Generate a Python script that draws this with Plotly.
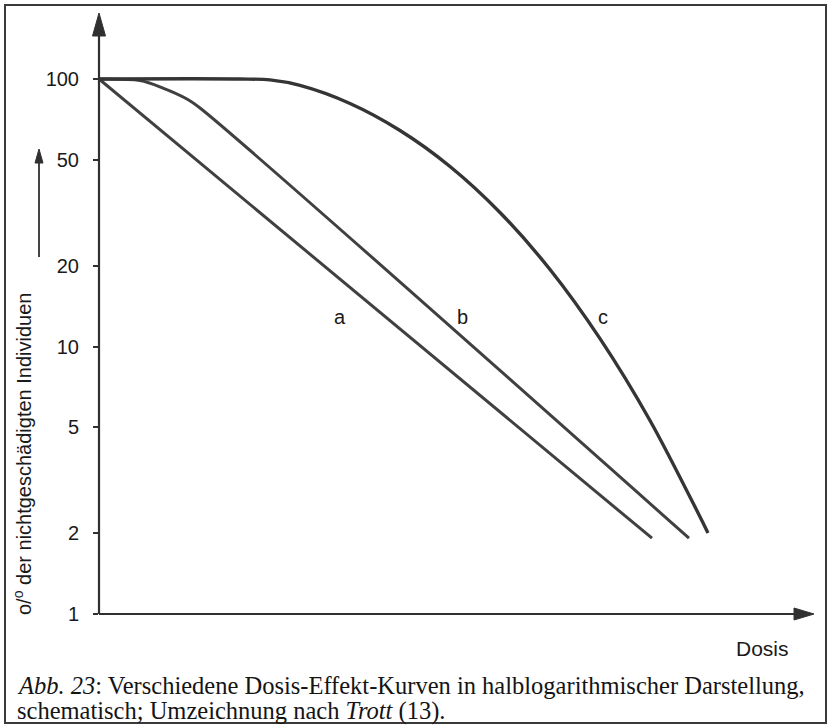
import math
import plotly.graph_objects as go

# --- data -----------------------------------------------------------------
# Dose in arbitrary units (0..10), survival in percent (log axis)
dose_a = [0.0, 7.745]
surv_a = [100, 1.92]

dose_b = [0.0, 0.574, 0.896, 1.232, 1.415, 8.263]
surv_b = [100, 98.7, 92.5, 84.2, 77.9, 1.92]

dose_c = [0.0, 1.975, 2.395, 2.815, 3.515, 4.216, 4.916, 5.616,
          6.317, 7.017, 7.717, 8.417, 8.529]
surv_c = [100, 100, 99.2, 94.6, 81.0, 64.2, 47.1, 31.7,
          19.4, 10.7, 5.29, 2.31, 2.01]

y_ticks = [1, 2, 5, 10, 20, 50, 100]
y_tick_text = ["1", "2", "5", "10", "20", "50", "100"]

curve_labels = ["a", "b", "c"]
curve_label_dose = [3.375, 5.084, 7.059]
curve_label_surv = [12.9, 12.9, 12.9]

y_title = "o/<sup>o</sup> der nichtgeschädigten Individuen"
x_title = "Dosis"
caption_1 = "<i>Abb. 23</i>: Verschiedene Dosis-Effekt-Kurven in halblogarithmischer Darstellung,"
caption_2 = "schematisch; Umzeichnung nach <i>Trott</i> (13)."

# --- layout geometry ----------------------------------------------------------
W, H = 829, 727
L, R, T, B = 99, 16, 13, 113
PW, PH = W - L - R, H - T - B


def fx(px):
    return (px - L) / PW


def fy(py):
    return (H - B - py) / PH


INK = "#303030"
LINE = "#404040"
TXT = "#1a1a1a"
SANS = "Liberation Sans, Arial, sans-serif"
SERIF = "Liberation Serif, Times New Roman, serif"

fig = go.Figure()
for xs, ys, w, col in [(dose_a, surv_a, 3.0, LINE), (dose_b, surv_b, 3.0, LINE),
                       (dose_c, surv_c, 3.4, "#353535")]:
    fig.add_trace(go.Scatter(
        x=xs, y=ys, mode="lines",
        line=dict(color=col, width=w, shape="spline", smoothing=0.9),
        hoverinfo="skip", showlegend=False,
    ))

shapes = []
# outer frame around figure and caption
shapes.append(dict(type="rect", xref="paper", yref="paper",
                   x0=fx(5), x1=fx(826), y0=fy(723), y1=fy(5),
                   line=dict(color="#3a3a3a", width=2)))
# y axis with arrow
shapes.append(dict(type="line", xref="paper", yref="paper",
                   x0=fx(99), x1=fx(99), y0=fy(614), y1=fy(30),
                   line=dict(color=INK, width=2.2)))
shapes.append(dict(type="path", xref="paper", yref="paper",
                   path=f"M {fx(99)} {fy(13)} L {fx(92.5)} {fy(36)} L {fx(105.5)} {fy(36)} Z",
                   fillcolor=INK, line=dict(color=INK, width=1)))
# x axis with arrow
shapes.append(dict(type="line", xref="paper", yref="paper",
                   x0=fx(99), x1=fx(798), y0=fy(614), y1=fy(614),
                   line=dict(color=INK, width=2.2)))
shapes.append(dict(type="path", xref="paper", yref="paper",
                   path=f"M {fx(814)} {fy(614)} L {fx(794)} {fy(608)} L {fx(794)} {fy(620)} Z",
                   fillcolor=INK, line=dict(color=INK, width=1)))
# small arrow beside the y-axis title
shapes.append(dict(type="line", xref="paper", yref="paper",
                   x0=fx(39), x1=fx(39), y0=fy(257), y1=fy(160),
                   line=dict(color=INK, width=1.8)))
shapes.append(dict(type="path", xref="paper", yref="paper",
                   path=f"M {fx(39)} {fy(149)} L {fx(35)} {fy(163)} L {fx(43)} {fy(163)} Z",
                   fillcolor=INK, line=dict(color=INK, width=1)))

annotations = []
for lab, xd, yd in zip(curve_labels, curve_label_dose, curve_label_surv):
    annotations.append(dict(x=xd, y=math.log10(yd), xref="x", yref="y",
                            xanchor="center", yanchor="middle",
                            text=lab, showarrow=False,
                            font=dict(family=SANS, size=20, color=TXT)))
annotations.append(dict(x=fx(22), y=fy(454), xref="paper", yref="paper",
                        xanchor="center", yanchor="middle",
                        text=y_title, textangle=-90, showarrow=False,
                        font=dict(family=SANS, size=20, color=TXT)))
annotations.append(dict(x=fx(762), y=fy(648), xref="paper", yref="paper",
                        xanchor="center", yanchor="middle",
                        text=x_title, showarrow=False,
                        font=dict(family=SANS, size=21, color=TXT)))
annotations.append(dict(x=fx(15), y=fy(686), xref="paper", yref="paper",
                        xanchor="left", yanchor="middle", text=caption_1, showarrow=False,
                        font=dict(family=SERIF, size=24.5, color="#141414")))
annotations.append(dict(x=fx(15), y=fy(711), xref="paper", yref="paper",
                        xanchor="left", yanchor="middle", text=caption_2, showarrow=False,
                        font=dict(family=SERIF, size=24.5, color="#141414")))

fig.update_layout(
    width=W, height=H,
    margin=dict(l=L, r=R, t=T, b=B, pad=0),
    paper_bgcolor="white", plot_bgcolor="white",
    shapes=shapes, annotations=annotations,
    xaxis=dict(range=[0, 10], showgrid=False, zeroline=False, showline=False,
               showticklabels=False, ticks=""),
    yaxis=dict(type="log", range=[0, 2.2467], showgrid=False, zeroline=False,
               showline=False, tickvals=y_ticks, ticktext=y_tick_text,
               ticks="outside", ticklen=5, tickwidth=2, tickcolor=INK,
               ticklabelstandoff=10,
               tickfont=dict(family=SANS, size=20, color=TXT)),
)

fig.write_html("out.html")
